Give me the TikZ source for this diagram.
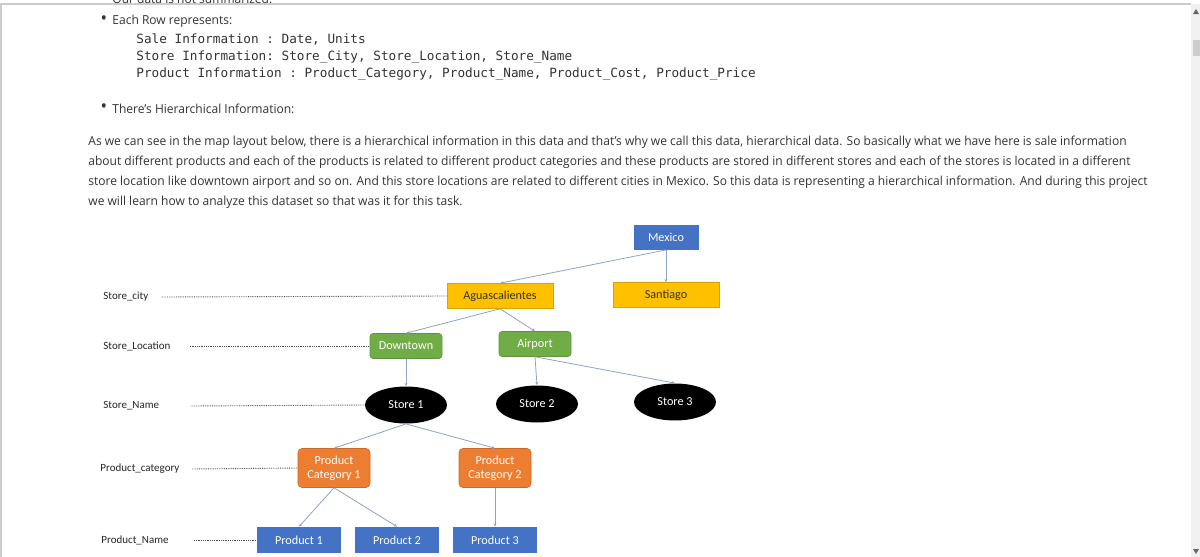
\documentclass[tikz,border=0pt]{standalone}
\usepackage{fontspec}
\setmainfont{Open Sans}[FakeStretch=0.97]
\newfontfamily\calibri{Carlito}
\setmonofont{DejaVu Sans Mono}
\definecolor{txtgray}{HTML}{333333}
\definecolor{xblue}{HTML}{4472C4}
\definecolor{xyellow}{HTML}{FFC000}
\definecolor{xgreen}{HTML}{70AD47}
\definecolor{xorange}{HTML}{ED7D31}
\definecolor{xline}{HTML}{8FA3C2}
\definecolor{lightgray2}{gray}{0.80}
\usetikzlibrary{arrows.meta, positioning, shapes}

\begin{document}
\begin{tikzpicture}[x=0.5pt, y=-0.5pt,
	box/.style={rectangle, inner sep=0pt, minimum height=12.5pt, font=\calibri\fontsize{6.1}{6.9}\selectfont, align=center},
	cityb/.style={box, fill=xyellow, draw=xyellow!85!black, line width=0.3pt, text=black!80, minimum width=53pt},
	locb/.style={box, fill=xgreen, draw=xgreen!85!black, line width=0.3pt, rounded corners=1.5pt, text=white, minimum width=36pt},
	storeb/.style={ellipse, fill=black, inner sep=0pt, minimum width=41pt, minimum height=18.5pt, text=white, font=\calibri\fontsize{6.1}{6.9}\selectfont},
	catb/.style={box, fill=xorange, draw=xorange!85!black, line width=0.3pt, rounded corners=2pt, text=white, minimum width=36pt, minimum height=19.5pt},
	prodb/.style={box, fill=xblue, text=white, minimum width=42pt, minimum height=13pt},
	link/.style={xline, line width=0.4pt, -{Stealth[length=1.6pt, width=1.4pt]}},
	dotline/.style={black!70, line width=0.45pt, dash pattern=on 0.4pt off 0.5pt},
	lvl/.style={anchor=west, inner sep=0pt, text=black!85, font=\calibri\fontsize{5.5}{6.5}\selectfont},
	para/.style={anchor=west, inner sep=0pt, text=txtgray, font=\fontsize{6.2}{7}\selectfont},
	dot/.style={anchor=center, inner sep=0pt, text=txtgray, font=\fontsize{9}{9}\selectfont},
	code/.style={anchor=west, inner sep=0pt, text=txtgray, font=\ttfamily\fontsize{6.35}{7}\selectfont}]

\useasboundingbox (0,0) rectangle (1200,557);
\clip (0,0) rectangle (1200,557);
\fill[white] (0,0) rectangle (1200,557);

% window frame
\draw[lightgray2, line width=0.6pt] (0,4) -- (1191,4); % top line
\draw[lightgray2, line width=1pt] (1,4) -- (1,557); % left edge
\fill[black!6] (1191,4) rectangle (1200,557); % scroll bar
\fill[black!20] (1193,40) rectangle (1200,56); % thumb
\fill[black!60] (1193,14) -- (1199,14) -- (1196,9) -- cycle; % up
\fill[black!60] (1193,549) -- (1199,549) -- (1196,554) -- cycle; % down

% text above the map
\node[para] (cut) at (112,-1) {Our data is not summarized.};
\node[dot] (b1) at (104,20) {\textbullet};
\node[para] (row) at (112,21) {Each Row represents:};
\node[code] (sale) at (136,40) {Sale Information : Date, Units};
\node[code] (store) at (136,57) {Store Information: Store\_City, Store\_Location, Store\_Name};
\node[code] (prod) at (136,74) {Product Information : Product\_Category, Product\_Name, Product\_Cost, Product\_Price};
\node[dot] (b2) at (104,108) {\textbullet};
\node[para] (hier) at (112,109) {There's Hierarchical Information:};

\foreach \t [count=\i] in {
	{As we can see in the map layout below, there is a hierarchical information in this data and that's why we call this data, hierarchical data. So basically what we have here is sale information},
	{about different products and each of the products is related to different product categories and these products are stored in different stores and each of the stores is located in a different},
	{store location like downtown airport and so on. And this store locations are related to different cities in Mexico. So this data is representing a hierarchical information. And during this project},
	{we will learn how to analyze this dataset so that was it for this task.}} {
	\node[para] (line\i) at (88, 122 + 20*\i) {\t}; % paragraph line
}

% the map
\node[box, fill=xblue, text=white, minimum width=32.5pt] (mexico) at (666,237) {Mexico};

\node[cityb] (agu)  at (500,296) {Aguascalientes};
\node[cityb] (sant) at (666,295) {Santiago};

\node[locb] (down) at (406,346) {Downtown};
\node[locb] (air)  at (535,344) {Airport};

\node[storeb] (st1) at (406,405) {Store 1};
\node[storeb] (st2) at (537,404) {Store 2};
\node[storeb] (st3) at (675,402) {Store 3};

\node[catb] (cat1) at (334,468) {Product\\Category 1};
\node[catb] (cat2) at (495,468) {Product\\Category 2};

\node[prodb] (p1) at (299,540) {Product 1};
\node[prodb] (p2) at (397,540) {Product 2};
\node[prodb] (p3) at (495,540) {Product 3};

\draw[link] (mexico.south) -- (agu.north);
\draw[link] (mexico.south) -- (sant.north);
\draw[link] (agu.south) -- (down.north);
\draw[link] (agu.south) -- (air.north);
\draw[link] (down.south) -- (st1.north);
\draw[link] (air.south) -- (st2.north);
\draw[link] (air.south) -- (st3.north);
\draw[link] (st1.south) -- (cat1.north);
\draw[link] (st1.south) -- (cat2.north);
\draw[link] (cat1.south) -- (p1.north);
\draw[link] (cat1.south) -- (p2.north);
\draw[link] (cat2.south) -- (p3.north);

% level names
\foreach \name/\txt/\x/\y/\gap/\tgt in {
	lcity/Store\_city/103/297/6.5/agu,
	lloc/Store\_Location/103/346/9.5/down,
	lname/Store\_Name/103/406/15.5/st1,
	lcat/Product\_category/100/469/6/cat1,
	lprod/Product\_Name/101/540/12.5/p1} {
	\node[lvl] (\name) at (\x,\y) {\txt};
	\draw[dotline] ([xshift=\gap pt]\name.east) -- (\tgt.west); % dotted guide
}

\end{tikzpicture}
\end{document}
